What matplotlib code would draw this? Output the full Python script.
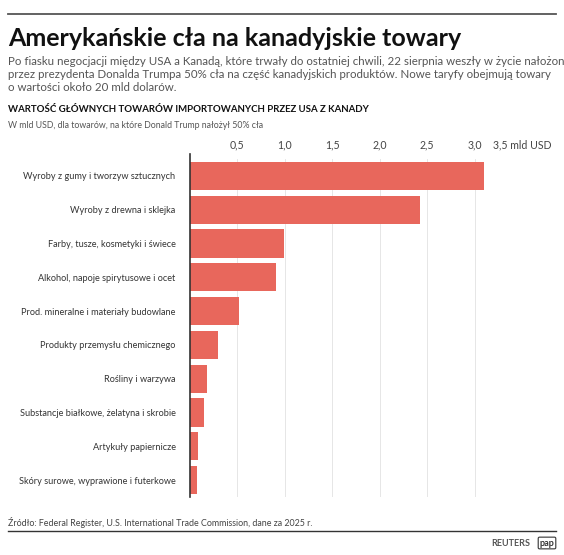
import matplotlib.pyplot as plt
from matplotlib.lines import Line2D

plt.rcParams["font.family"] = ["Lato", "DejaVu Sans"]

categories = [
    "Wyroby z gumy i tworzyw sztucznych",
    "Wyroby z drewna i sklejka",
    "Farby, tusze, kosmetyki i świece",
    "Alkohol, napoje spirytusowe i ocet",
    "Prod. mineralne i materiały budowlane",
    "Produkty przemysłu chemicznego",
    "Rośliny i warzywa",
    "Substancje białkowe, żelatyna i skrobie",
    "Artykuły papiernicze",
    "Skóry surowe, wyprawione i futerkowe",
]
values = [3.10, 2.43, 0.99, 0.91, 0.52, 0.30, 0.18, 0.15, 0.09, 0.08]
tick_vals = [0.5, 1.0, 1.5, 2.0, 2.5, 3.0, 3.5]
tick_labels = ["0,5", "1,0", "1,5", "2,0", "2,5", "3,0", "3,5 mld USD"]

W, H = 564, 555
fig = plt.figure(figsize=(W / 100, H / 100), dpi=100)
ax = fig.add_axes([189.5 / W, 1 - 497 / H, 332.5 / W, 338 / H])

ax.barh(range(len(values)), values, height=0.83, color="#e8675c", zorder=2)
ax.set_xlim(0, 3.5)
ax.set_ylim(len(values) - 0.5, -0.5)
ax.set_xticks(tick_vals)
ax.set_xticklabels(tick_labels, fontsize=7.6, color="#444444")
ax.xaxis.tick_top()
ax.tick_params(axis="x", length=0, pad=6)
ax.set_yticks(range(len(values)))
ax.set_yticklabels(categories, fontsize=6.6, color="#333333")
ax.tick_params(axis="y", length=0, pad=10)
ax.grid(axis="x", color="#e6e6e6", linewidth=0.7, zorder=0)
for s in ["top", "right", "bottom"]:
    ax.spines[s].set_visible(False)
ax.spines["left"].set_color("#333333")
ax.spines["left"].set_linewidth(1.2)
ax.spines["left"].set_bounds(-0.65, len(values) - 0.5)

def px(x, y):
    return x / W, 1 - y / H

fig.add_artist(Line2D([8 / W, 556 / W], [1 - 14 / H] * 2, color="#555555", lw=1.3))
fig.text(*px(8, 38), "Amerykańskie cła na kanadyjskie towary", fontsize=18,
         fontweight="bold", va="center", color="#111111")
fig.text(*px(8, 56),
         "Po fiasku negocjacji między USA a Kanadą, które trwały do ostatniej chwili, 22 sierpnia weszły w życie nałożone\n"
         "przez prezydenta Donalda Trumpa 50% cła na część kanadyjskich produktów. Nowe taryfy obejmują towary\n"
         "o wartości około 20 mld dolarów.",
         fontsize=8.3, va="top", color="#555555", linespacing=1.2)
fig.text(*px(8, 109), "WARTOŚĆ GŁÓWNYCH TOWARÓW IMPORTOWANYCH PRZEZ USA Z KANADY",
         fontsize=6.9, fontweight="bold", va="center", color="#111111")
fig.text(*px(8, 125), "W mld USD, dla towarów, na które Donald Trump nałożył 50% cła",
         fontsize=6.3, va="center", color="#555555")
fig.text(*px(8, 522), "Źródło: Federal Register, U.S. International Trade Commission, dane za 2025 r.",
         fontsize=6.4, va="center", color="#444444")
fig.add_artist(Line2D([8 / W, 556 / W], [1 - 531 / H] * 2, color="#333333", lw=1))
fig.text(*px(530, 543), "REUTERS", fontsize=6.5, fontweight="bold", ha="right",
         va="center", color="#555555")
fig.text(*px(547, 543), "pap", fontsize=6.5, fontweight="bold", ha="center",
         va="center", color="#333333",
         bbox=dict(boxstyle="round,pad=0.15", fc="white", ec="#333333", lw=0.8))

fig.savefig("out.png", dpi=100)
